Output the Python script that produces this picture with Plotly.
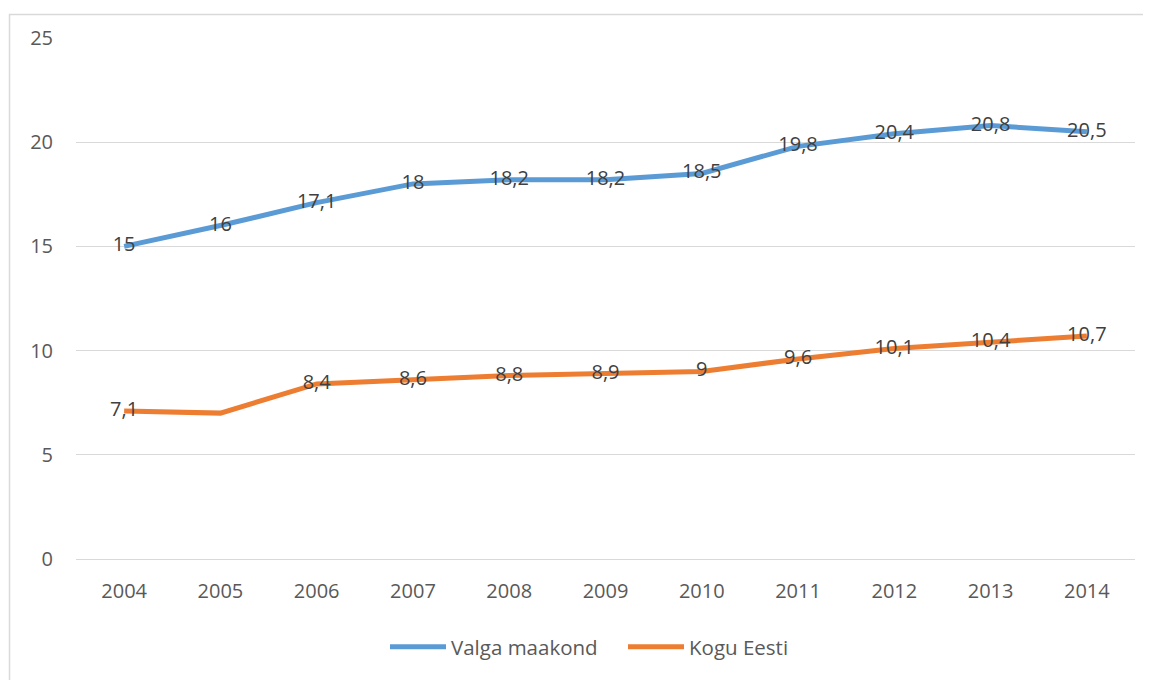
import plotly.graph_objects as go

years = ["2004", "2005", "2006", "2007", "2008", "2009", "2010", "2011", "2012", "2013", "2014"]
valga = [15, 16, 17.1, 18, 18.2, 18.2, 18.5, 19.8, 20.4, 20.8, 20.5]
eesti = [7.1, 7.0, 8.4, 8.6, 8.8, 8.9, 9, 9.6, 10.1, 10.4, 10.7]
eesti_show_label = [True, False, True, True, True, True, True, True, True, True, True]
y_ticks = [0, 5, 10, 15, 20, 25]


def fmt(v):
    s = ("%g" % v)
    return s.replace(".", ",")


valga_text = [fmt(v) for v in valga]
eesti_text = [fmt(v) if show else "" for v, show in zip(eesti, eesti_show_label)]

FONT = "Open Sans, Liberation Sans, sans-serif"

fig = go.Figure()
fig.add_trace(go.Scatter(
    x=years, y=valga, name="Valga maakond", mode="lines+text",
    line=dict(color="#5B9BD5", width=5),
    text=valga_text, textposition="middle center",
    textfont=dict(family=FONT, size=20, color="#404040"),
))
fig.add_trace(go.Scatter(
    x=years, y=eesti, name="Kogu Eesti", mode="lines+text",
    line=dict(color="#ED7D31", width=5),
    text=eesti_text, textposition="middle center",
    textfont=dict(family=FONT, size=20, color="#404040"),
))

# page offset (body margin) of 8px
OFF = 8
W, H = 1151, 680
L = 76 - OFF
T = 38 - OFF
R = W - (1135 - OFF)
B = H - (559 - OFF)
pw = W - L - R
ph = H - T - B


def px_x(p):
    return (p - OFF - L) / pw


def px_y(p):
    return (H - B - (p - OFF)) / ph


fig.update_layout(
    width=W, height=H,
    margin=dict(l=L, r=R, t=T, b=B, pad=0),
    paper_bgcolor="white", plot_bgcolor="white",
    font=dict(family=FONT, size=20, color="#595959"),
    showlegend=True,
    legend=dict(
        orientation="h", x=px_x(385), xanchor="left",
        y=px_y(647), yanchor="middle",
        font=dict(family=FONT, size=20.5, color="#595959"),
        itemwidth=56, entrywidth=167, entrywidthmode="pixels",
        traceorder="normal",
        bgcolor="rgba(0,0,0,0)",
    ),
    xaxis=dict(
        type="category", range=[-0.5, 10.5],
        showgrid=False, showline=False, zeroline=False,
        ticks="", ticklabelstandoff=18,
        tickfont=dict(family=FONT, size=20, color="#595959"),
        fixedrange=True,
    ),
    yaxis=dict(
        range=[0, 25], tickvals=y_ticks,
        showgrid=True, gridcolor="#D9D9D9", gridwidth=1,
        zeroline=True, zerolinecolor="#D9D9D9", zerolinewidth=1,
        showline=False, ticks="", ticklabelstandoff=22,
        tickfont=dict(family=FONT, size=20, color="#595959"),
        fixedrange=True,
    ),
    shapes=[dict(
        type="rect", xref="paper", yref="paper", layer="below",
        x0=px_x(9.5), x1=px_x(1170), y0=px_y(700), y1=px_y(14.5),
        line=dict(color="#D9D9D9", width=1.5), fillcolor="rgba(0,0,0,0)",
    )],
)

fig.write_html("out.html")
